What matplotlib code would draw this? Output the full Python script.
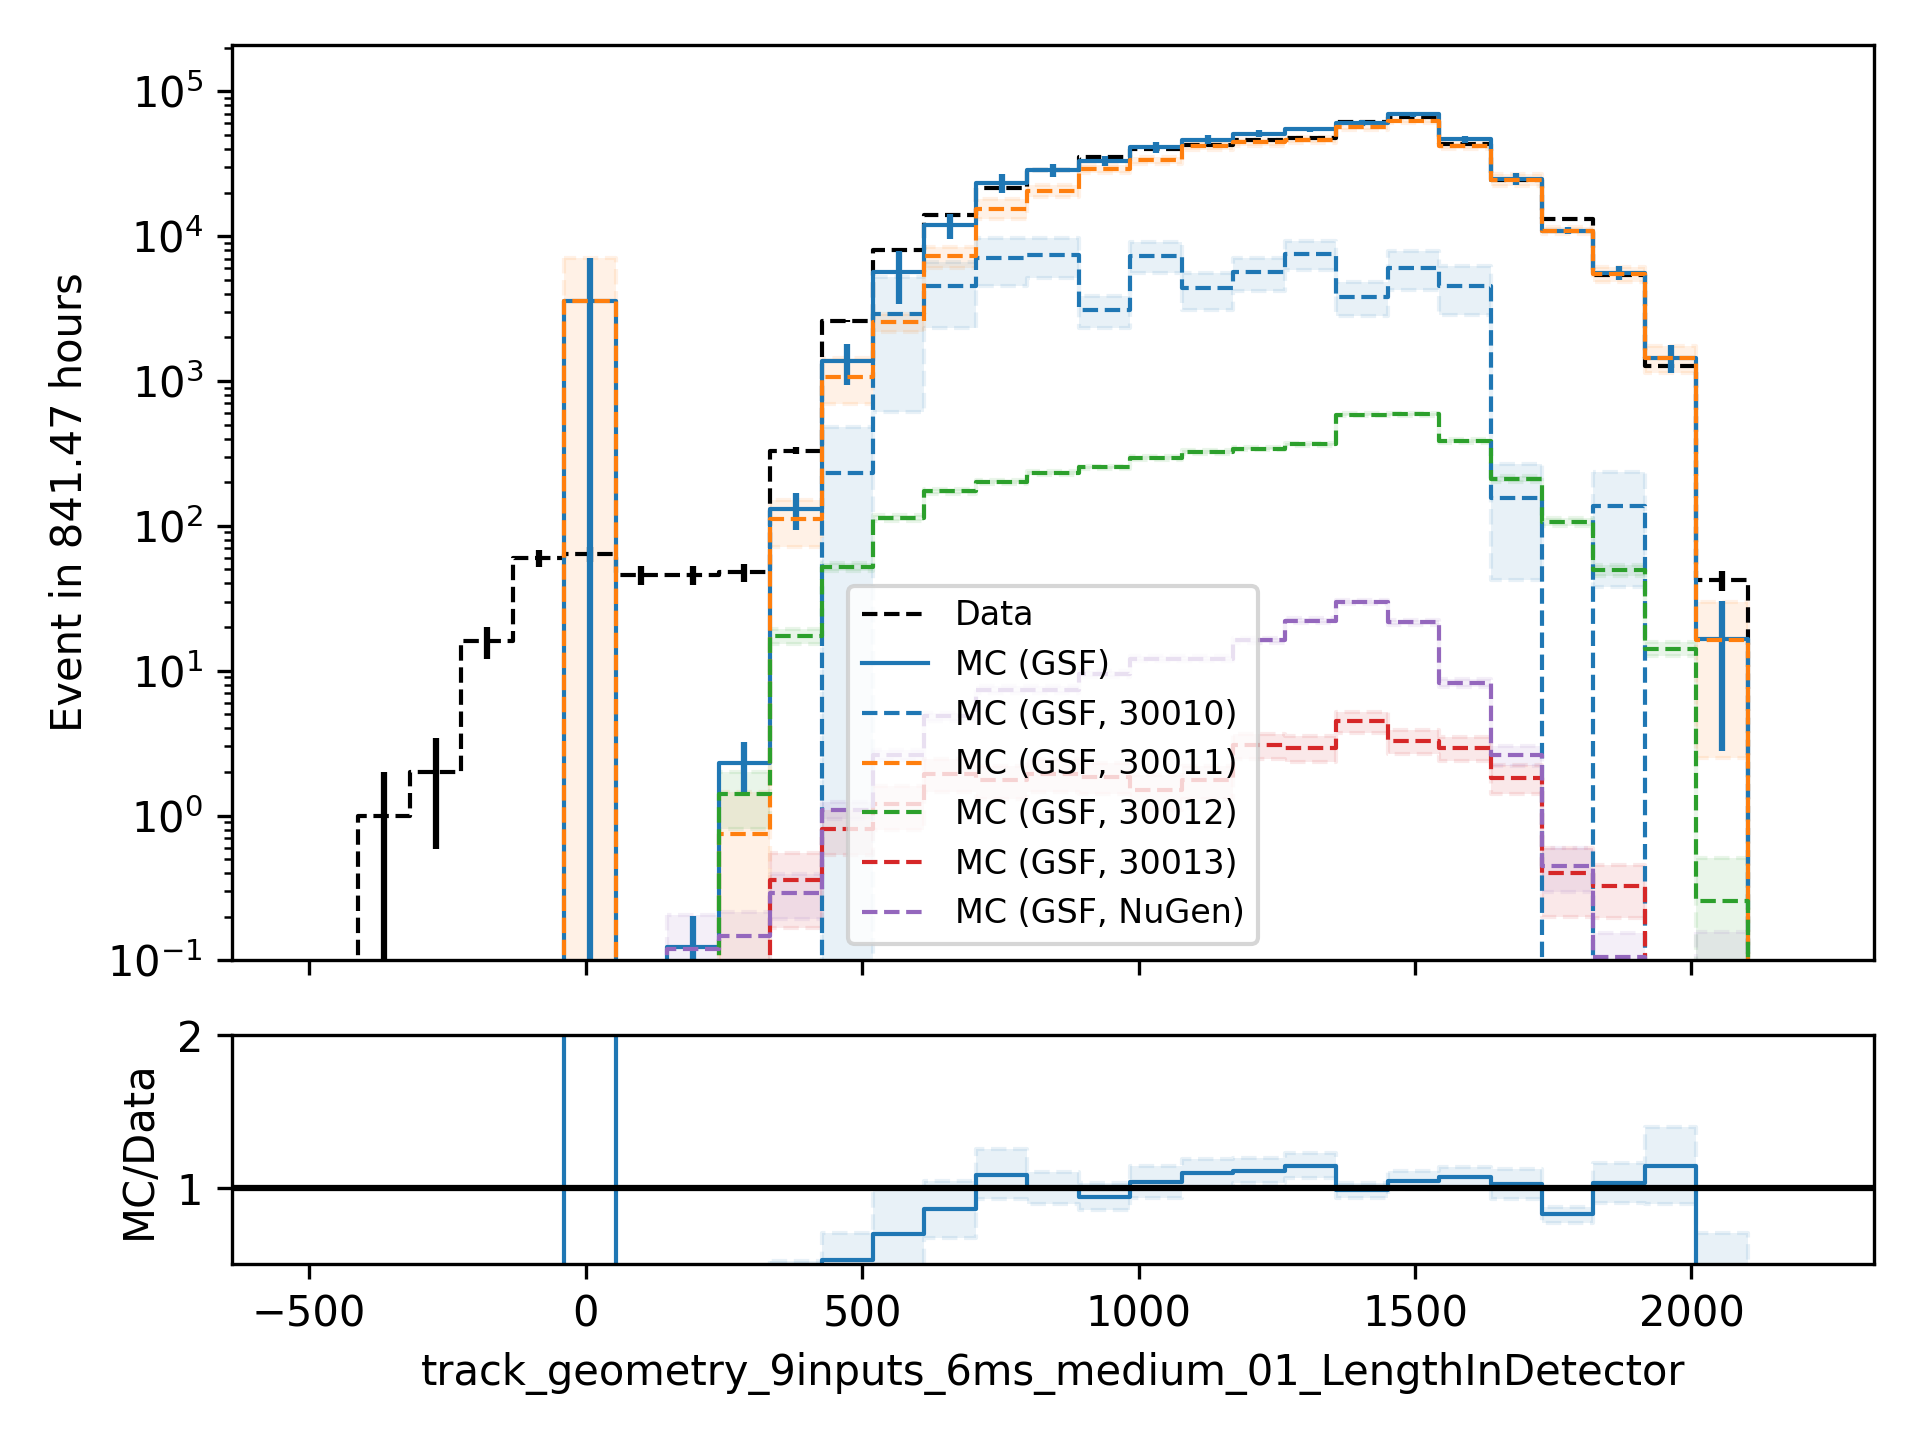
import matplotlib
matplotlib.use("Agg")
import matplotlib.pyplot as plt
import numpy as np

# binning of the histogram (29 bins)
bin_lo = -504.0
bin_hi = 2195.0
n_bins = 29

data_counts = [0, 1, 2, 16, 60, 64, 46, 46, 48, 330, 2600, 8050, 13900, 21500, 28600,
               35300, 39700, 42300, 46000, 47500, 61500, 66500, 43600, 24400, 13200,
               5400, 1270, 42, 0]

mc_total = [0, 0, 0, 0, 0, 3540, 0, 0.124, 2.3, 131, 1370, 5650, 11900, 23300, 28600,
            33200, 41200, 46300, 51000, 54500, 60500, 69500, 46800, 25000, 10900,
            5600, 1450, 16.5, 0]
mc_total_err = [0, 0, 0, 0, 0, 3560, 0, 0.08, 0.9, 37, 430, 2250, 2400, 3400, 2800,
                2700, 3400, 3300, 3000, 2500, 2500, 2500, 2600, 2400, 600,
                650, 310, 13.7, 0]

mc_30010 = [0, 0, 0, 0, 0, 0, 0, 0, 0, 0, 233, 2910, 4500, 7100, 7450,
            3100, 7350, 4360, 5630, 7570, 3830, 6050, 4540, 155, 0,
            137, 0, 0, 0]
err_30010 = [0, 0, 0, 0, 0, 0, 0, 0, 0, 0, 250, 2300, 2170, 2550, 2330,
             790, 1800, 1250, 1430, 1700, 1000, 1800, 1700, 113, 0,
             99, 0, 0, 0]

mc_30011 = [0, 0, 0, 0, 0, 3540, 0, 0, 0.745, 112, 1070, 2550, 7240, 15500, 20600,
            29300, 33300, 42100, 44400, 46000, 56600, 62300, 42100, 24600, 10900,
            5500, 1440, 16.2, 0]
err_30011 = [0, 0, 0, 0, 0, 3560, 0, 0, 0.7, 40, 380, 360, 1200, 2450, 1900,
             1800, 2000, 2500, 2300, 2300, 2300, 2300, 2000, 2400, 600,
             650, 310, 13.7, 0]

mc_30012 = [0, 0, 0, 0, 0, 0, 0, 0, 1.40, 17.3, 52, 113, 174, 201, 233,
            253, 293, 324, 342, 366, 585, 591, 385, 210, 106,
            49.4, 14.2, 0.256, 0]
err_30012 = [0, 0, 0, 0, 0, 0, 0, 0, 0.59, 2, 3.5, 5, 7, 7, 8,
             8, 9, 10, 10, 10, 15, 15, 12, 10, 7,
             4, 1.5, 0.25, 0]

mc_30013 = [0, 0, 0, 0, 0, 0, 0, 0, 0, 0.358, 0.81, 1.2, 1.95, 1.75, 1.95,
            1.85, 1.5, 1.75, 3.07, 2.94, 4.46, 3.28, 2.94, 1.83, 0.40,
            0.327, 0, 0, 0]
err_30013 = [0, 0, 0, 0, 0, 0, 0, 0, 0, 0.19, 0.28, 0.4, 0.5, 0.45, 0.5,
             0.45, 0.4, 0.45, 0.6, 0.6, 0.75, 0.6, 0.55, 0.42, 0.2,
             0.13, 0, 0, 0]

mc_nugen = [0, 0, 0, 0, 0, 0, 0, 0.119, 0.147, 0.292, 1.09, 2.62, 4.83, 7.4, 7.4,
            9.5, 12.1, 12.1, 16.2, 22.2, 29.8, 21.6, 8.2, 2.62, 0.448,
            0.105, 0, 0.05, 0]
err_nugen = [0, 0, 0, 0, 0, 0, 0, 0.086, 0.07, 0.1, 0.15, 0.2, 0.3, 0.4, 0.4,
             0.45, 0.5, 0.5, 0.7, 0.9, 1.1, 0.9, 0.5, 0.42, 0.15,
             0.05, 0, 0.107, 0]

nan = float("nan")
ratio = [nan, 0, 0, 0, 0, 55.3, 0, 0.0027, 0.048, 0.40, 0.528, 0.697, 0.860, 1.085, 1.0,
         0.941, 1.039, 1.098, 1.111, 1.144, 0.987, 1.046, 1.074, 1.028, 0.828,
         1.035, 1.144, 0.39, nan]
ratio_lo = [nan, nan, nan, nan, nan, nan, nan, nan, nan, 0.29, 0.36, 0.42, 0.675, 0.926, 0.893,
            0.856, 0.932, 1.009, 1.035, 1.068, 0.937, 0.991, 1.002, 0.926, 0.773,
            0.904, 0.893, 0.07, nan]
ratio_hi = [nan, nan, nan, nan, nan, nan, nan, nan, nan, 0.522, 0.707, 1.0, 1.046, 1.253, 1.105,
            1.031, 1.144, 1.188, 1.199, 1.227, 1.031, 1.109, 1.138, 1.122, 0.878,
            1.162, 1.400, 0.707, nan]

components = [
    ("MC (GSF, 30010)", mc_30010, err_30010, "C0"),
    ("MC (GSF, 30011)", mc_30011, err_30011, "C1"),
    ("MC (GSF, 30012)", mc_30012, err_30012, "C2"),
    ("MC (GSF, 30013)", mc_30013, err_30013, "C3"),
    ("MC (GSF, NuGen)", mc_nugen, err_nugen, "C4"),
]


def extend(vals):
    v = np.asarray(vals, dtype=float)
    return np.append(v, v[-1])


def fill_band(ax, edges, lo, hi, color):
    # each bin gets its own two points so single isolated bins still show up
    x = np.repeat(edges, 2)[1:-1]
    ax.fill_between(x, np.repeat(lo, 2), np.repeat(hi, 2), color=color,
                    alpha=0.1, ls="--")


def draw_errorbars(ax, centers, vals, errs, color):
    v = np.asarray(vals, dtype=float)
    e = np.asarray(errs, dtype=float)
    ok = v > 0
    low = np.minimum(e[ok], v[ok] - 1e-3)
    ax.errorbar(centers[ok], v[ok], yerr=[low, e[ok]], fmt="none", ecolor=color)


def main() -> None:
    edges = np.linspace(bin_lo, bin_hi, n_bins + 1)
    centers = 0.5 * (edges[:-1] + edges[1:])

    fig, (ax, rax) = plt.subplots(2, 1, sharex=True, figsize=(6.4, 4.8),
                                  gridspec_kw={"height_ratios": [4, 1]})
    fig.subplots_adjust(left=0.121, right=0.976, top=0.969, bottom=0.122, hspace=0.131)

    data = np.asarray(data_counts, dtype=float)
    ax.step(edges, extend(data), where="post", color="k", ls="--", lw=1, label="Data")
    draw_errorbars(ax, centers, data, np.sqrt(data), "k")

    ax.step(edges, extend(mc_total), where="post", color="C0", lw=1, label="MC (GSF)")
    draw_errorbars(ax, centers, mc_total, mc_total_err, "C0")

    for name, vals, errs, color in components:
        v = np.asarray(vals, dtype=float)
        e = np.asarray(errs, dtype=float)
        ax.step(edges, extend(v), where="post", color=color, ls="--", lw=1, label=name)
        lo = np.where(v > 0, np.maximum(v - e, 1e-3), np.nan)
        hi = np.where(v > 0, v + e, np.nan)
        fill_band(ax, edges, lo, hi, color)

    ax.set_yscale("log")
    ax.set_ylim(0.1, 2.1e5)
    ax.set_ylabel("Event in 841.47 hours")
    ax.legend(loc="lower center", fontsize=8)

    # ratio panel
    rax.step(edges, extend(ratio), where="post", color="C0", lw=1)
    fill_band(rax, edges, np.asarray(ratio_lo), np.asarray(ratio_hi), "C0")
    rax.axhline(1, color="k")
    rax.set_ylim(0.5, 2)
    rax.set_yticks([1, 2])
    rax.set_ylabel("MC/Data")
    rax.set_xlabel("track_geometry_9inputs_6ms_medium_01_LengthInDetector")

    fig.savefig("out.png", dpi=300)
    plt.close(fig)


if __name__ == "__main__":
    main()
